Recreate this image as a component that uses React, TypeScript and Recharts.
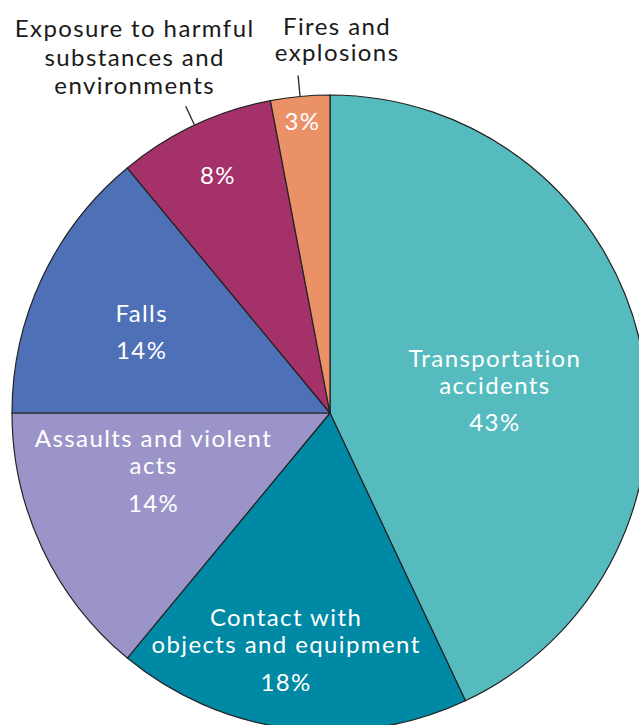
import { Cell, Pie, PieChart } from "recharts";

const categories = [
  "Transportation accidents",
  "Contact with objects and equipment",
  "Assaults and violent acts",
  "Falls",
  "Exposure to harmful substances and environments",
  "Fires and explosions",
];
const shares = [43, 18, 14, 14, 8, 3];
const nameLines = [
  ["Transportation", "accidents"],
  ["Contact with", "objects and equipment"],
  ["Assaults and violent", "acts"],
  ["Falls"],
  ["Exposure to harmful", "substances and", "environments"],
  ["Fires and", "explosions"],
];
// inside = name printed on the slice, outside = name printed past a leader line
const labelPlacement = ["inside", "inside", "inside", "inside", "outside", "outside"];
const sliceColors = ["#56BBBE", "#0089A4", "#9B94C8", "#4E70B6", "#A5316A", "#EB9168"];

const data = categories.map((name, i) => ({ name, value: shares[i] }));

const RAD = Math.PI / 180;
const FONT = "Lato, 'Noto Sans', sans-serif";
const textStyle = { fontSize: 24, fontFamily: FONT, letterSpacing: 1.4 };

// radius (share of outer radius) and nudge for the first text line of each slice
const spots = [
  { k: 170 / 318, dx: -1, dy: -18 },
  { k: 207 / 318, dx: -18, dy: -1 },
  { k: 195 / 318, dx: 0, dy: -58 },
  { k: 207 / 318, dx: -1, dy: -12 },
  { k: 263 / 318, dx: 0, dy: 0 },
  { k: 293 / 318, dx: 0, dy: 0 },
];
const outsideText = [
  null, null, null, null,
  { dx: -51, dy: -12, gap: 28.5 },
  { dx: 39, dy: -14.5, gap: 26.5 },
];

function polar(cx: number, cy: number, r: number, angle: number) {
  return { x: cx + Math.cos(-angle * RAD) * r, y: cy + Math.sin(-angle * RAD) * r };
}

function SliceLabel(props: any) {
  const { cx, cy, midAngle, outerRadius, index } = props;
  const spot = spots[index];
  const p = polar(cx, cy, outerRadius * spot.k, midAngle);
  const x = p.x + spot.dx;
  const y = p.y + spot.dy + 9;
  const pct = `${shares[index]}%`;

  if (labelPlacement[index] === "inside") {
    const lines = nameLines[index];
    return (
      <g>
        {lines.map((line, i) => (
          <text key={i} x={x} y={y + i * 27} textAnchor="middle" fill="#fff" style={textStyle}>
            {line}
          </text>
        ))}
        <text x={x} y={y + (lines.length - 1) * 27 + 37.5} textAnchor="middle" fill="#fff" style={textStyle}>
          {pct}
        </text>
      </g>
    );
  }

  const a = polar(cx, cy, outerRadius, midAngle);
  const b = polar(cx, cy, outerRadius + 21, midAngle);
  const o = outsideText[index]!;
  const lines = nameLines[index];
  const lastY = b.y + o.dy;
  return (
    <g>
      <text x={x} y={y} textAnchor="middle" fill="#fff" style={textStyle}>
        {pct}
      </text>
      <line x1={a.x} y1={a.y} x2={b.x} y2={b.y} stroke="#222" strokeWidth={1.3} />
      {lines.map((line, i) => (
        <text
          key={i}
          x={b.x + o.dx}
          y={lastY - (lines.length - 1 - i) * o.gap}
          textAnchor="middle"
          fill="#1a1a1a"
          style={textStyle}
        >
          {line}
        </text>
      ))}
    </g>
  );
}

export default function App() {
  return (
    <div style={{ position: "absolute", left: 0, top: 0, width: 639, height: 725, background: "#fff" }}>
      <PieChart width={639} height={725} margin={{ top: 0, right: 0, bottom: 0, left: 0 }}>
        <Pie
          data={data}
          dataKey="value"
          nameKey="name"
          cx={330}
          cy={413}
          outerRadius={318}
          startAngle={90}
          endAngle={-270}
          stroke="#222"
          strokeWidth={1.2}
          labelLine={false}
          label={SliceLabel}
          isAnimationActive={false}
        >
          {data.map((d, i) => (
            <Cell key={d.name} fill={sliceColors[i]} />
          ))}
        </Pie>
      </PieChart>
    </div>
  );
}
